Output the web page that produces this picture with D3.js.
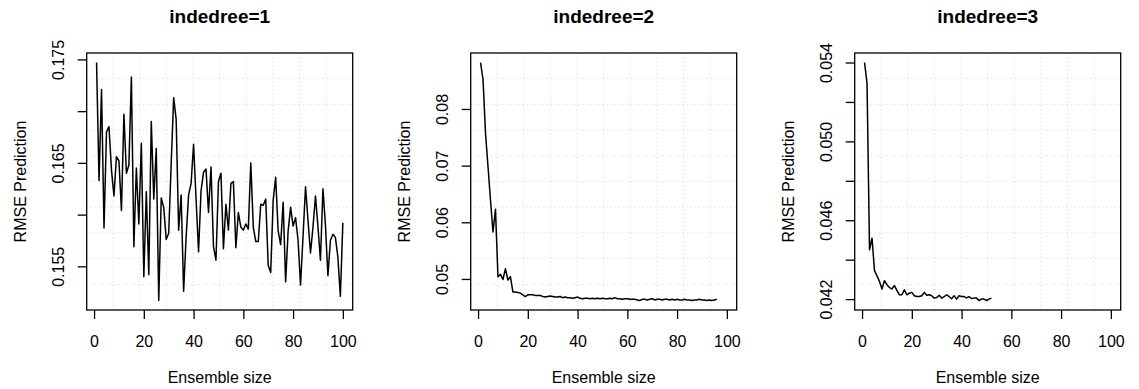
<!DOCTYPE html>
<html lang="en">
<head>
  <meta charset="utf-8">
  <title>RMSE vs ensemble size</title>
  <script src="https://d3js.org/d3.v7.min.js"></script>
  <style>
    body {
      margin: 0;
      background: #fff;
      font-family: "Liberation Sans", Arial, sans-serif;
    }
    svg { display: block; }
  </style>
</head>
<body>
  <svg id="chart" width="1139" height="389"></svg>

  <script>
    // valori
    const titles = ["indedree=1", "indedree=2", "indedree=3"];
    const xTicks = [0, 20, 40, 60, 80, 100];
    const xLimits = [1, 100];

    const rmse1 = [
      0.1747, 0.1633, 0.1721, 0.1587, 0.1680, 0.1685, 0.1643, 0.1618, 0.1656, 0.1652,
      0.1604, 0.1697, 0.1640, 0.1648, 0.1733, 0.1569, 0.1645, 0.1591, 0.1669, 0.1540,
      0.1622, 0.1542, 0.1690, 0.1615, 0.1664, 0.1517, 0.1616, 0.1607, 0.1576, 0.1582,
      0.1649, 0.1713, 0.1692, 0.1585, 0.1619, 0.1526, 0.1578, 0.1619, 0.1630, 0.1668,
      0.1615, 0.1564, 0.1623, 0.1641, 0.1644, 0.1602, 0.1646, 0.1569, 0.1556, 0.1632,
      0.1640, 0.1567, 0.1610, 0.1585, 0.1630, 0.1632, 0.1568, 0.1602, 0.1588, 0.1585,
      0.1591, 0.1586, 0.1650, 0.1588, 0.1574, 0.1574, 0.1610, 0.1609, 0.1615, 0.1551,
      0.1544, 0.1614, 0.1636, 0.1584, 0.1571, 0.1612, 0.1535, 0.1584, 0.1607, 0.1589,
      0.1597, 0.1575, 0.1532, 0.1579, 0.1627, 0.1594, 0.1563, 0.1588, 0.1618, 0.1588,
      0.1556, 0.1625, 0.1590, 0.1541, 0.1575, 0.1581, 0.1578, 0.1559, 0.1521, 0.1592
    ];
    const rmse2 = [
      0.0882, 0.0852, 0.0757, 0.0698, 0.0639, 0.0583, 0.0623, 0.0504, 0.0508, 0.0499,
      0.0518, 0.0498, 0.0504, 0.0477, 0.0477, 0.0476, 0.0475, 0.0472, 0.0469, 0.0472,
      0.0472, 0.0472, 0.0471, 0.0471, 0.0471, 0.0469, 0.0468, 0.0469, 0.0470, 0.0469,
      0.0468, 0.0468, 0.0469, 0.0467, 0.0468, 0.0467, 0.0467, 0.0466, 0.0467, 0.0468,
      0.0466, 0.0465, 0.0466, 0.0466, 0.0465, 0.0466, 0.0465, 0.0466, 0.0465, 0.0466,
      0.0465, 0.0465, 0.0466, 0.0465, 0.0467, 0.0465, 0.0465, 0.0464, 0.0465, 0.0465,
      0.0464, 0.0464, 0.0464, 0.0463, 0.0462, 0.0464, 0.0464, 0.0463, 0.0464, 0.0465,
      0.0463, 0.0464, 0.0464, 0.0463, 0.0464, 0.0464, 0.0463, 0.0464, 0.0463, 0.0464,
      0.0463, 0.0463, 0.0464, 0.0463, 0.0463, 0.0462, 0.0463, 0.0463, 0.0464, 0.0463,
      0.0463, 0.0462, 0.0463, 0.0462, 0.0463, 0.0464
    ];
    const rmse3 = [
      0.05400, 0.05294, 0.04450, 0.04509, 0.04345, 0.04318, 0.04290, 0.04251, 0.04293, 0.04273,
      0.04259, 0.04251, 0.04269, 0.04244, 0.04222, 0.04222, 0.04247, 0.04222, 0.04230, 0.04234,
      0.04217, 0.04213, 0.04213, 0.04217, 0.04234, 0.04220, 0.04222, 0.04217, 0.04205, 0.04208,
      0.04219, 0.04205, 0.04213, 0.04222, 0.04213, 0.04202, 0.04217, 0.04200, 0.04217, 0.04213,
      0.04213, 0.04206, 0.04213, 0.04203, 0.04205, 0.04205, 0.04193, 0.04200, 0.04200, 0.04193,
      0.04200, 0.04205
    ];

    const yTicks1 = [0.155, 0.160, 0.165, 0.170, 0.175];
    const yLabels1 = [0.155, 0.165, 0.175];
    const yTicks2 = [0.05, 0.06, 0.07, 0.08];
    const yLabels2 = [0.05, 0.06, 0.07, 0.08];
    const yTicks3 = [0.042, 0.044, 0.046, 0.048, 0.050, 0.052, 0.054];
    const yLabels3 = [0.042, 0.046, 0.050, 0.054];

    const panels = [
      { title: titles[0], values: rmse1, yTicks: yTicks1, yLabels: yLabels1, fmt: d3.format(".3f") },
      { title: titles[1], values: rmse2, yTicks: yTicks2, yLabels: yLabels2, fmt: d3.format(".2f") },
      { title: titles[2], values: rmse3, yTicks: yTicks3, yLabels: yLabels3, fmt: d3.format(".3f") }
    ];

    const svg = d3.select("#chart");
    const panelStep = 384;
    const box = { left: 86.7, width: 266, top: 53, height: 257 };

    // come R: limiti estesi del 4%
    function pad(ext) {
      const r = ext[1] - ext[0];
      return [ext[0] - 0.04 * r, ext[1] + 0.04 * r];
    }

    panels.forEach((p, k) => {
      const g = svg.append("g")
          .attr("transform", `translate(${box.left + k * panelStep},${box.top})`);

      const data = p.values.map((v, i) => ({ size: i + 1, rmse: v }));

      const xDom = pad(xLimits);
      const yDom = pad(d3.extent(p.values));
      const x = d3.scaleLinear().domain(xDom).range([0, box.width]);
      const y = d3.scaleLinear().domain(yDom).range([box.height, 0]);

      // griglia puntinata (10 divisioni)
      const gx = d3.range(1, 10).map(j => xDom[0] + j * (xDom[1] - xDom[0]) / 10);
      const gy = d3.range(1, 10).map(j => yDom[0] + j * (yDom[1] - yDom[0]) / 10);
      const grid = g.append("g")
          .attr("stroke", "#d3d3d3")
          .attr("stroke-width", 1)
          .attr("stroke-dasharray", "1,3");
      grid.selectAll("line.v").data(gx).join("line")
          .attr("class", "v")
          .attr("x1", d => x(d)).attr("x2", d => x(d))
          .attr("y1", 0).attr("y2", box.height);
      grid.selectAll("line.h").data(gy).join("line")
          .attr("class", "h")
          .attr("y1", d => y(d)).attr("y2", d => y(d))
          .attr("x1", 0).attr("x2", box.width);

      // linea
      const line = d3.line().x(d => x(d.size)).y(d => y(d.rmse));
      g.append("path")
          .datum(data)
          .attr("fill", "none")
          .attr("stroke", "#000")
          .attr("stroke-width", 1.5)
          .attr("stroke-linejoin", "round")
          .attr("d", line);

      // riquadro
      g.append("rect")
          .attr("x", 0).attr("y", 0)
          .attr("width", box.width).attr("height", box.height)
          .attr("fill", "none")
          .attr("stroke", "#000")
          .attr("stroke-width", 1.3);

      // asse x
      const xa = g.append("g")
          .attr("transform", `translate(0,${box.height})`)
          .call(d3.axisBottom(x).tickValues(xTicks).tickSize(9).tickFormat(d3.format("d")));
      xa.select(".domain").remove();
      xa.selectAll(".tick line").attr("stroke", "#000").attr("stroke-width", 1.3);
      xa.selectAll(".tick text")
          .attr("y", 37).attr("dy", 0)
          .attr("fill", "#000")
          .style("font", "16px 'Liberation Sans', Arial, sans-serif");

      // asse y, etichette ruotate
      const isLabel = d => p.yLabels.some(v => Math.abs(v - d) < 1e-9);
      const ya = g.append("g")
          .call(d3.axisLeft(y).tickValues(p.yTicks).tickSize(9)
            .tickFormat(d => isLabel(d) ? p.fmt(d) : ""));
      ya.select(".domain").remove();
      ya.selectAll(".tick line").attr("stroke", "#000").attr("stroke-width", 1.3);
      ya.selectAll(".tick text")
          .attr("transform", "rotate(-90)")
          .attr("x", 0).attr("y", -22.7).attr("dy", 0)
          .attr("text-anchor", "middle")
          .attr("fill", "#000")
          .style("font", "16px 'Liberation Sans', Arial, sans-serif");

      // titoli
      g.append("text")
          .attr("x", box.width / 2).attr("y", 22.5 - box.top)
          .attr("text-anchor", "middle")
          .style("font", "bold 19px 'Liberation Sans', Arial, sans-serif")
          .text(p.title);

      g.append("text")
          .attr("x", box.width / 2).attr("y", 383 - box.top)
          .attr("text-anchor", "middle")
          .style("font", "16px 'Liberation Sans', Arial, sans-serif")
          .text("Ensemble size");

      g.append("text")
          .attr("transform", `translate(-60.7,${box.height / 2}) rotate(-90)`)
          .attr("text-anchor", "middle")
          .style("font", "16px 'Liberation Sans', Arial, sans-serif")
          .text("RMSE Prediction");
    });
  </script>
</body>
</html>
